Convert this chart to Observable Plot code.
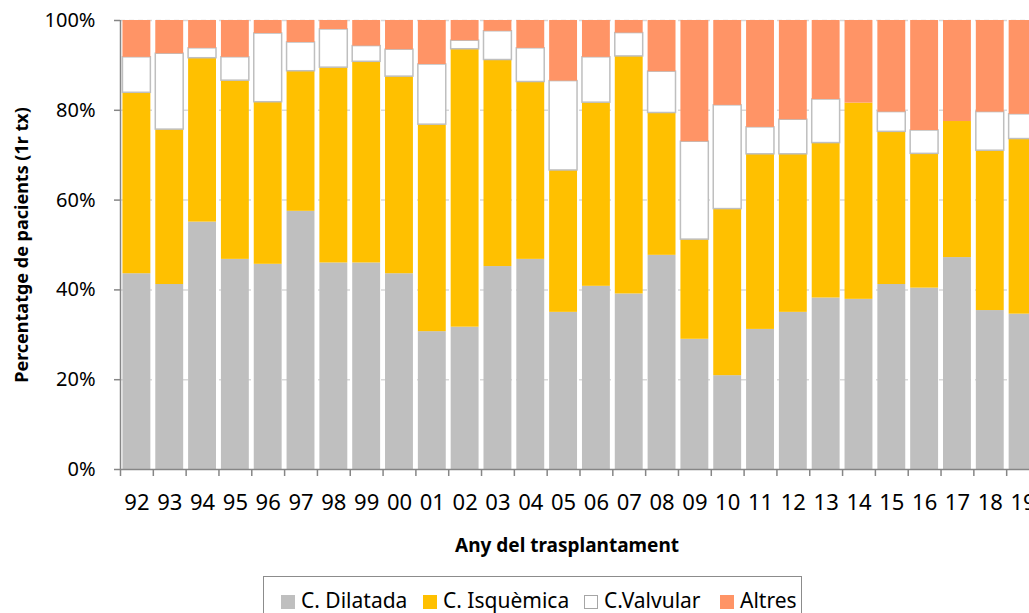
<!DOCTYPE html>
<html>
<head>
<meta charset="utf-8">
<script src="https://cdn.jsdelivr.net/npm/d3@7"></script>
<script src="https://cdn.jsdelivr.net/npm/@observablehq/plot@0.6"></script>
<style>
  html, body { margin: 0; padding: 0; background: #fff; }
  body { width: 1029px; height: 613px; overflow: hidden; position: relative; font-family: "Noto Sans", sans-serif; }
  #chart { position: absolute; left: 0; top: 0; width: 1050px; }
  #legend { position: absolute; left: 263px; top: 576px; width: 539px; height: 60px; border: 1.5px solid #8c8c8c; box-sizing: border-box; background: #fff; }
  .item { position: absolute; top: 10px; font-size: 21px; line-height: 26px; color: #000; white-space: nowrap; }
  .sw { display: inline-block; width: 14px; height: 14px; vertical-align: -1px; margin-right: 6px; box-sizing: border-box; }
</style>
</head>
<body>
<div id="chart"></div>
<div id="legend"></div>
<script>
const years = ["92","93","94","95","96","97","98","99","00","01","02","03","04","05","06","07","08","09","10","11","12","13","14","15","16","17","18","19"];
const causes = ["C. Dilatada", "C. Isquèmica", "C.Valvular", "Altres"];
const dilatada  = [43.6,41.2,55.1,46.8,45.7,57.5,46.0,46.0,43.6,30.7,31.7,45.2,46.8,35.0,40.8,39.1,47.7,29.0,20.9,31.2,35.0,38.2,37.9,41.2,40.4,47.2,35.4,34.6];
const isquemica = [40.3,34.5,36.5,39.8,36.1,31.2,43.5,44.8,43.9,46.1,61.9,46.0,39.5,31.6,40.9,52.9,31.7,22.2,37.1,39.0,35.2,34.5,43.7,34.0,29.9,30.3,35.6,39.0];
const valvular  = [7.9,16.9,2.2,5.2,15.3,6.4,8.5,3.5,6.0,13.4,1.9,6.4,7.5,19.9,10.1,5.2,9.2,21.8,23.1,6.0,7.7,9.7,0,4.4,5.2,0,8.6,5.5];
const altres    = [8.2,7.4,6.2,8.2,2.9,4.9,2.0,5.7,6.5,9.8,4.5,2.4,6.2,13.5,8.2,2.8,11.4,27.0,18.9,23.8,22.1,17.6,18.4,20.4,24.5,22.5,20.4,20.9];
const yTicks = [0, 20, 40, 60, 80, 100];

const fills = {"C. Dilatada": "#bfbfbf", "C. Isquèmica": "#ffc000", "C.Valvular": "#ffffff", "Altres": "#ff9466"};
const strokes = {"C. Dilatada": "none", "C. Isquèmica": "none", "C.Valvular": "#bfbfbf", "Altres": "none"};

const series = [dilatada, isquemica, valvular, altres];
const table = [];
years.forEach((yr, i) => {
  causes.forEach((c, k) => {
    const v = series[k][i];
    if (v > 0) table.push({year: yr, cause: c, value: v, order: k});
  });
});

const W = 1050, ML = 120, MR = 11;
const step = (W - ML - MR) / years.length;

const chart = Plot.plot({
  width: W,
  height: 565,
  marginLeft: ML,
  marginRight: MR,
  marginTop: 20,
  marginBottom: 96,
  style: {fontFamily: "Noto Sans, sans-serif", maxWidth: "none", background: "#fff", overflow: "visible"},
  x: {domain: years, paddingInner: 0.15, paddingOuter: 0.075, round: false, axis: null},
  y: {domain: [0, 100], axis: null},
  color: {type: "identity"},
  marks: [
    Plot.ruleY(yTicks.filter(d => d > 0), {stroke: "#d9d9d9", strokeWidth: 1.5, strokeDasharray: "5,4"}),
    Plot.barY(table, Plot.stackY({
      x: "year", y: "value", order: "order",
      fill: d => fills[d.cause],
      stroke: d => strokes[d.cause],
      strokeWidth: 1.5
    })),
    Plot.ruleY([0], {stroke: "#868686", strokeWidth: 1.5}),
    Plot.ruleX([years[0]], {dx: -step / 2, stroke: "#868686", strokeWidth: 1.5}),
    Plot.tickX(years, {x: d => d, dx: -step / 2, stroke: "#868686", strokeWidth: 1.5, insetTop: 449, insetBottom: -7}),
    Plot.axisY({ticks: yTicks, tickSize: 6, tickPadding: 19, tickFormat: d => d + "%", fontSize: 20, stroke: "#868686", strokeWidth: 1.5, color: "#000", label: null}),
    Plot.axisX({tickSize: 0, tickPadding: 25, fontSize: 22, label: null}),
    Plot.text(["Percentatge de pacients (1r tx)"], {frameAnchor: "left", textAnchor: "middle", rotate: -90, dx: -98, fontSize: 18, fontWeight: "bold", fill: "#000"}),
    Plot.text(["Any del trasplantament"], {frameAnchor: "bottom", dx: -13, dy: 82, fontSize: 19, fontWeight: "bold", fill: "#000"})
  ]
});
document.getElementById("chart").appendChild(chart);

const legend = document.getElementById("legend");
const lefts = [17, 159, 320, 456];
causes.forEach((c, k) => {
  const it = document.createElement("div");
  it.className = "item";
  it.style.left = lefts[k] + "px";
  const sw = document.createElement("span");
  sw.className = "sw";
  sw.style.background = fills[c];
  if (c === "C.Valvular") sw.style.border = "1.5px solid #a6a6a6";
  it.appendChild(sw);
  it.appendChild(document.createTextNode(c));
  legend.appendChild(it);
});
</script>
</body>
</html>
